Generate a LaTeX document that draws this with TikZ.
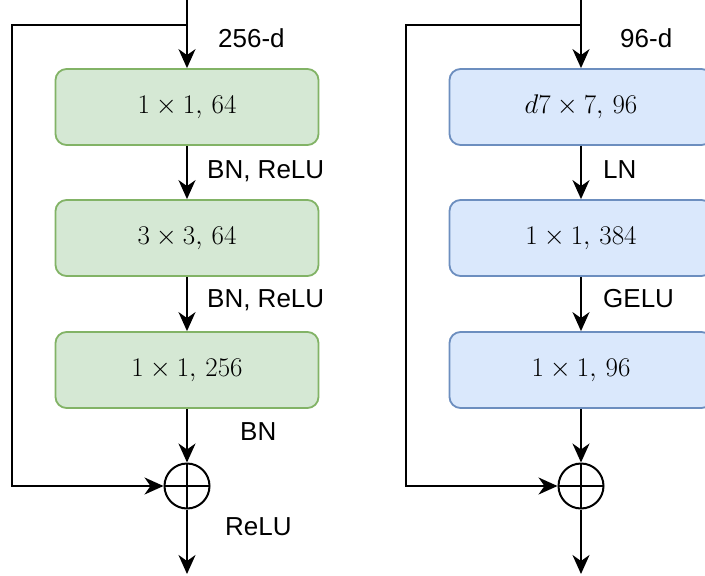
\RequirePackage{fix-cm}
\documentclass[tikz,border=0pt]{standalone}
\usepackage{fontspec}
\setmainfont{Liberation Sans}
\usetikzlibrary{arrows.meta}
\definecolor{gfill}{HTML}{D5E8D4}
\definecolor{gdraw}{HTML}{82B366}
\definecolor{bfill}{HTML}{DAE8FC}
\definecolor{bdraw}{HTML}{6C8EBF}
\begin{document}
\begin{tikzpicture}[x=1pt,y=-1pt,
  blk/.style={draw, line width=1.8pt, rounded corners=11pt, minimum width=263pt, minimum height=76pt, inner sep=0pt, font=\fontsize{27}{32}\selectfont},
  gblk/.style={blk, fill=gfill, draw=gdraw},
  bblk/.style={blk, fill=bfill, draw=bdraw},
  conn/.style={line width=2pt},
  arr/.style={conn, -{Stealth[length=19pt,width=17pt,inset=6pt]}},
  lbl/.style={anchor=base west, inner sep=0pt, font=\fontsize{26}{30}\selectfont},
  sum/.style={draw, circle, line width=2pt, minimum size=45pt, inner sep=0pt,
    path picture={\draw[line width=2pt] (path picture bounding box.north) -- (path picture bounding box.south) (path picture bounding box.west) -- (path picture bounding box.east);}}
]
\useasboundingbox (0,0) rectangle (705,576);

% left column
\coordinate (Ltop) at (187,0);
\coordinate (Lsplit) at (187,25);
\coordinate (Lc1) at (12,25);
\coordinate (Lc2) at (12,486);
\coordinate (Lout) at (187,574);
\node[gblk] (L1) at (187,107) {$1\times1,\,64$};
\node[gblk] (L2) at (187,238) {$3\times3,\,64$};
\node[gblk] (L3) at (187,370) {$1\times1,\,256$};
\node[sum] (Ls) at (187,486) {};
\draw[arr] (Ltop) -- (L1.north);
\draw[arr] (L1) -- (L2);
\draw[arr] (L2) -- (L3);
\draw[arr] (L3) -- (Ls.north);
\draw[arr] (Lsplit) -- (Lc1) -- (Lc2) -- (Ls.west);
\draw[arr] (Ls.south) -- (Lout);
\node[lbl] (Ld) at (218,47) {256-d};
\node[lbl] (Lb1) at (207,178) {BN, ReLU};
\node[lbl] (Lb2) at (207,307) {BN, ReLU};
\node[lbl] (Lb3) at (240,440) {BN};
\node[lbl] (Lb4) at (225,535) {ReLU};

% right column
\coordinate (Rtop) at (581,0);
\coordinate (Rsplit) at (581,25);
\coordinate (Rc1) at (406,25);
\coordinate (Rc2) at (406,486);
\coordinate (Rout) at (581,574);
\node[bblk] (R1) at (581,107) {$d7\times7,\,96$};
\node[bblk] (R2) at (581,238) {$1\times1,\,384$};
\node[bblk] (R3) at (581,370) {$1\times1,\,96$};
\node[sum] (Rs) at (581,486) {};
\draw[arr] (Rtop) -- (R1.north);
\draw[arr] (R1) -- (R2);
\draw[arr] (R2) -- (R3);
\draw[arr] (R3) -- (Rs.north);
\draw[arr] (Rsplit) -- (Rc1) -- (Rc2) -- (Rs.west);
\draw[arr] (Rs.south) -- (Rout);
\node[lbl] (Rd) at (620,47) {96-d};
\node[lbl] (Rb1) at (603,178) {LN};
\node[lbl] (Rb2) at (603,307) {GELU};
\end{tikzpicture}
\end{document}
